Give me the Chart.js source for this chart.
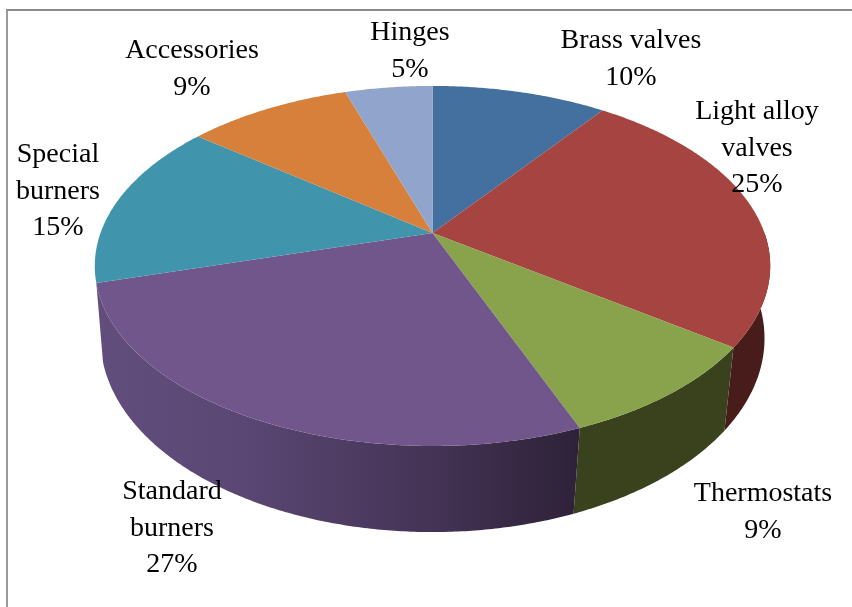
<!DOCTYPE html>
<html>
<head>
<meta charset="utf-8">
<title>Product share</title>
<script src="https://cdn.jsdelivr.net/npm/chart.js@4"></script>
<style>
  html, body { margin: 0; padding: 0; background: #fff; overflow: hidden; }
  #wrap { position: relative; width: 852px; height: 607px; }
  #frame { position: absolute; left: 6px; top: 9px; right: 0; bottom: 0;
           border-top: 2px solid #8c8c8c; border-left: 2px solid #9a9a9a; }
  #pie { position: absolute; left: 0; top: 0; }
</style>
</head>
<body>
<div id="wrap">
  <div id="frame"></div>
  <canvas id="pie" width="852" height="607"></canvas>
</div>
<script>
// ---- Data ----
const categories = [
  ['Brass valves'],
  ['Light alloy', 'valves'],
  ['Thermostats'],
  ['Standard', 'burners'],
  ['Special', 'burners'],
  ['Accessories'],
  ['Hinges'],
];
const shares = [10, 25, 9, 26.6, 15, 9.4, 5];

// ---- Colours ----
const topColors = ['#44709f', '#a64441', '#88a34c', '#71568b', '#4095ad', '#d6803c', '#91a4cb'];
// null = wall not visible, 'shade' = gradient wall
const wallColors = [null, '#481c1a', '#39411d', 'shade', null, null, null];

// ---- Label placement (centre x, middle y of first line) ----
const labelX = [631, 757, 763, 172, 58, 192, 410];
const labelY = [41, 112, 494, 492, 155, 51, 33];
const LINE_H = 36.5;

// ---- Perspective rings: unit disc to screen ----
const topRing = { cx: 432.5, cy: 233, rx: 332, ry: 174, k: 0.183 };
const baseRing = { cx: 432.5, cy: 308.4, rx: 328, ry: 189, k: 0.155 };

// a = clockwise from 12 o'clock
function project(ring, a) {
  const X = Math.sin(a);
  const Y = -Math.cos(a);
  const d = 1 - ring.k * Y;
  return { x: ring.cx + ring.rx * X / d, y: ring.cy + ring.ry * Y / d };
}

function wallFill(ctx, i) {
  if (wallColors[i] !== 'shade') return wallColors[i];
  const g = ctx.createLinearGradient(96, 0, 578, 0);
  g.addColorStop(0, '#614e7c');
  g.addColorStop(0.3, '#5a4774');
  g.addColorStop(0.7, '#443355');
  g.addColorStop(1, '#2e2239');
  return g;
}

// ---- Plugin: draws the library's arcs as a tilted 3D disc ----
const tiltedPie = {
  id: 'tiltedPie',
  beforeDatasetDraw() {
    return false; // flat arcs are replaced below
  },
  afterDatasetsDraw(chart) {
    const ctx = chart.ctx;
    const arcs = chart.getDatasetMeta(0).data;
    const STEP = Math.PI / 360;

    // side walls, only the front half shows
    arcs.forEach((el, i) => {
      if (!wallColors[i]) return;
      const a0 = Math.max(el.startAngle + Math.PI / 2, Math.PI / 2);
      const a1 = Math.min(el.endAngle + Math.PI / 2, Math.PI * 1.5);
      if (a1 <= a0) return;
      ctx.beginPath();
      for (let a = a0; a < a1; a += STEP) {
        const p = project(topRing, a);
        ctx.lineTo(p.x, p.y);
      }
      const pe = project(topRing, a1);
      ctx.lineTo(pe.x, pe.y);
      for (let a = a1; a > a0; a -= STEP) {
        const p = project(baseRing, a);
        ctx.lineTo(p.x, p.y);
      }
      const ps = project(baseRing, a0);
      ctx.lineTo(ps.x, ps.y);
      ctx.closePath();
      ctx.fillStyle = wallFill(ctx, i);
      ctx.fill();
    });

    // top faces
    arcs.forEach((el) => {
      const a0 = el.startAngle + Math.PI / 2;
      const a1 = el.endAngle + Math.PI / 2;
      ctx.beginPath();
      ctx.moveTo(topRing.cx, topRing.cy);
      for (let a = a0; a < a1; a += STEP) {
        const p = project(topRing, a);
        ctx.lineTo(p.x, p.y);
      }
      const pe = project(topRing, a1);
      ctx.lineTo(pe.x, pe.y);
      ctx.closePath();
      ctx.fillStyle = el.options.backgroundColor;
      ctx.fill();
    });

    // labels
    ctx.fillStyle = '#000';
    ctx.font = "28px 'Liberation Serif', serif";
    ctx.textAlign = 'center';
    ctx.textBaseline = 'middle';
    chart.data.labels.forEach((lines, i) => {
      const all = lines.concat(Math.round(chart.data.datasets[0].data[i]) + '%');
      all.forEach((t, n) => ctx.fillText(t, labelX[i], labelY[i] + n * LINE_H));
    });
  }
};

new Chart(document.getElementById('pie'), {
  type: 'pie',
  data: {
    labels: categories,
    datasets: [{ data: shares, backgroundColor: topColors, borderWidth: 0 }]
  },
  options: {
    responsive: false,
    animation: false,
    events: [],
    plugins: { legend: { display: false }, tooltip: { enabled: false } }
  },
  plugins: [tiltedPie]
});
</script>
</body>
</html>
